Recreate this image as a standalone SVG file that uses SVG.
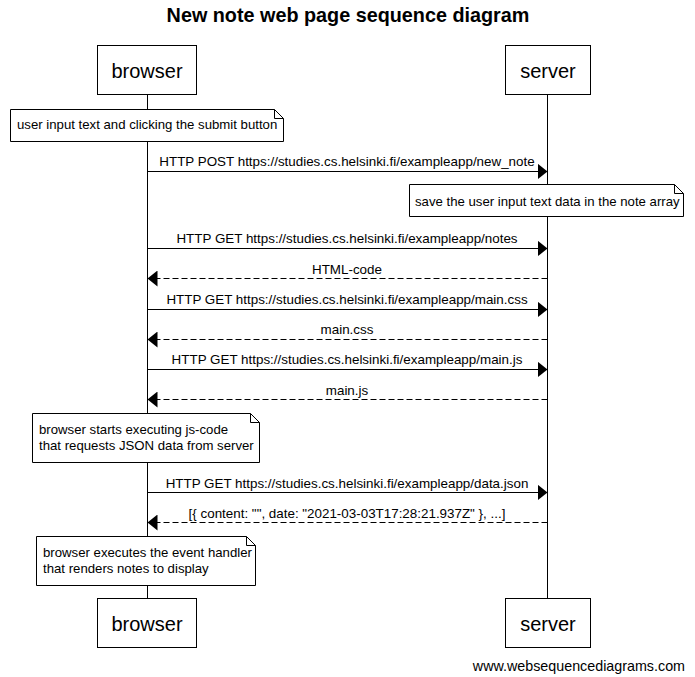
<svg xmlns="http://www.w3.org/2000/svg" width="695" height="677" viewBox="0 0 695 677">
<style>
text{font-family:"Liberation Sans",Arial,sans-serif;fill:#000}
.title{font-size:19.8px;font-weight:bold;text-anchor:middle}
.actor rect{fill:#fff;stroke:#000;stroke-width:1}
.actor text{font-size:20px;text-anchor:middle}
.life{stroke:#000;stroke-width:1}
.msg{stroke:#000;stroke-width:1;fill:none;marker-end:url(#ah)}
.ret{stroke-dasharray:6 3}
.lbl{font-size:13.4px;text-anchor:middle}
.note path{fill:#fff;stroke:#000;stroke-width:1}
.note text{font-size:13.2px}
.foot{font-size:14.3px;text-anchor:end}
</style>
<defs>
<marker id="ah" markerUnits="userSpaceOnUse" markerWidth="11" markerHeight="16" refX="10" refY="8" orient="auto" viewBox="0 0 11 16">
<path d="M0,0 L10,8 L0,16 Z" fill="#000"/>
</marker>
</defs>
<rect width="695" height="677" fill="#fff"/>
<text class="title" x="348" y="22">New note web page sequence diagram</text>
<g id="lifelines">
<line class="life" x1="147.5" y1="95" x2="147.5" y2="598"/>
<line class="life" x1="547.5" y1="95" x2="547.5" y2="598"/>
</g>
<g id="browser-top" class="actor"><rect x="97.5" y="45.5" width="99" height="49"/><text x="147" y="78">browser</text></g>
<g id="server-top" class="actor"><rect x="505.5" y="45.5" width="85" height="49"/><text x="548" y="78">server</text></g>
<g id="browser-bottom" class="actor"><rect x="97.5" y="598.5" width="99" height="49"/><text x="147" y="631">browser</text></g>
<g id="server-bottom" class="actor"><rect x="505.5" y="598.5" width="85" height="49"/><text x="548" y="631">server</text></g>
<g id="connectors">
<line class="msg" x1="147.5" y1="171.5" x2="547.5" y2="171.5"/>
<text class="lbl" x="347" y="166">HTTP POST https://studies.cs.helsinki.fi/exampleapp/new_note</text>
<line class="msg" x1="147.5" y1="248.5" x2="547.5" y2="248.5"/>
<text class="lbl" x="347" y="243">HTTP GET https://studies.cs.helsinki.fi/exampleapp/notes</text>
<line class="msg ret" x1="547.5" y1="278.5" x2="147.5" y2="278.5"/>
<text class="lbl" x="347" y="274">HTML-code</text>
<line class="msg" x1="147.5" y1="309.5" x2="547.5" y2="309.5"/>
<text class="lbl" x="347" y="304">HTTP GET https://studies.cs.helsinki.fi/exampleapp/main.css</text>
<line class="msg ret" x1="547.5" y1="339.5" x2="147.5" y2="339.5"/>
<text class="lbl" x="347" y="334">main.css</text>
<line class="msg" x1="147.5" y1="369.5" x2="547.5" y2="369.5"/>
<text class="lbl" x="347" y="364">HTTP GET https://studies.cs.helsinki.fi/exampleapp/main.js</text>
<line class="msg ret" x1="547.5" y1="399.5" x2="147.5" y2="399.5"/>
<text class="lbl" x="347" y="395">main.js</text>
<line class="msg" x1="147.5" y1="492.5" x2="547.5" y2="492.5"/>
<text class="lbl" x="347" y="488">HTTP GET https://studies.cs.helsinki.fi/exampleapp/data.json</text>
<line class="msg ret" x1="547.5" y1="522.5" x2="147.5" y2="522.5"/>
<text class="lbl" x="347" y="518">[{ content: "", date: "2021-03-03T17:28:21.937Z" }, ...]</text>
</g>
<g id="note1" class="note">
<path d="M10.5,109.5 H274.5 L283.5,118.5 V141.5 H10.5 Z M274.5,109.5 V118.5 H283.5"/>
<text x="17" y="129">user input text and clicking the submit button</text>
</g>
<g id="note2" class="note">
<path d="M409.5,184.5 H674.5 L683.5,193.5 V216.5 H409.5 Z M674.5,184.5 V193.5 H683.5"/>
<text x="415" y="206">save the user input text data in the note array</text>
</g>
<g id="note3" class="note">
<path d="M32.5,413.5 H250.5 L259.5,422.5 V462.5 H32.5 Z M250.5,413.5 V422.5 H259.5"/>
<text x="39" y="434">browser starts executing js-code</text>
<text x="39" y="450">that requests JSON data from server</text>
</g>
<g id="note4" class="note">
<path d="M36.5,536.5 H246.5 L255.5,545.5 V585.5 H36.5 Z M246.5,536.5 V545.5 H255.5"/>
<text x="43" y="557">browser executes the event handler</text>
<text x="43" y="573">that renders notes to display</text>
</g>
<text class="foot" x="685" y="671">www.websequencediagrams.com</text>
</svg>
